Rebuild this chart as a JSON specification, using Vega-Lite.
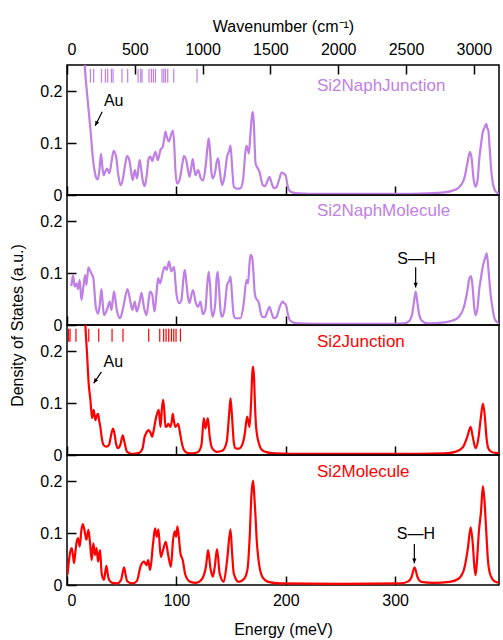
{
"$schema":"https://vega.github.io/schema/vega-lite/v6.json",
"autosize":{"type":"pad"},
"padding":{"left":8,"top":17,"right":1,"bottom":0},
"background":"white",
"config":{"font":"Liberation Sans","view":{"stroke":"black","strokeWidth":1.5},
"axis":{"labelFont":"Liberation Sans","titleFont":"Liberation Sans","labelFontSize":16,"titleFontSize":16,"labelColor":"black","titleColor":"black","titleFontWeight":"normal","tickColor":"black","tickWidth":1.5,"tickSize":-9,"domain":false,"grid":false,"labelPadding":14}},
"bounds":"flush",
"spacing":0,
"datasets":{
"dos":[
{"p":1,"e":13,"d":0.40},{"p":1,"e":16.2,"d":0.25},{"p":1,"e":18.3,"d":0.196},{"p":1,"e":20.5,"d":0.147},{"p":1,"e":22,"d":0.112},{"p":1,"e":23.5,"d":0.074},{"p":1,"e":25.1,"d":0.048},{"p":1,"e":26.5,"d":0.034},{"p":1,"e":28.1,"d":0.030},{"p":1,"e":29.5,"d":0.045},{"p":1,"e":31.1,"d":0.079},{"p":1,"e":32.3,"d":0.055},{"p":1,"e":33.5,"d":0.038},{"p":1,"e":35,"d":0.045},{"p":1,"e":36.6,"d":0.051},{"p":1,"e":38.7,"d":0.042},{"p":1,"e":40.8,"d":0.065},{"p":1,"e":42.7,"d":0.085},{"p":1,"e":44.9,"d":0.074},{"p":1,"e":46.8,"d":0.040},{"p":1,"e":48.9,"d":0.019},{"p":1,"e":51,"d":0.03},{"p":1,"e":53.3,"d":0.06},{"p":1,"e":54.9,"d":0.075},{"p":1,"e":57,"d":0.067},{"p":1,"e":58.6,"d":0.045},{"p":1,"e":60.1,"d":0.029},{"p":1,"e":62,"d":0.048},{"p":1,"e":64.1,"d":0.032},{"p":1,"e":65.5,"d":0.055},{"p":1,"e":66.5,"d":0.067},{"p":1,"e":67.8,"d":0.05},{"p":1,"e":69.5,"d":0.025},{"p":1,"e":71.1,"d":0.017},{"p":1,"e":73,"d":0.04},{"p":1,"e":74.7,"d":0.0705},{"p":1,"e":76.3,"d":0.074},{"p":1,"e":77.8,"d":0.065},{"p":1,"e":79.4,"d":0.075},{"p":1,"e":80.9,"d":0.083},{"p":1,"e":83,"d":0.067},{"p":1,"e":85.5,"d":0.087},{"p":1,"e":87.6,"d":0.093},{"p":1,"e":89,"d":0.11},{"p":1,"e":90,"d":0.122},{"p":1,"e":91.5,"d":0.11},{"p":1,"e":93.1,"d":0.103},{"p":1,"e":95.5,"d":0.118},{"p":1,"e":97,"d":0.124},{"p":1,"e":98.2,"d":0.09},{"p":1,"e":99.1,"d":0.048},{"p":1,"e":100.6,"d":0.022},{"p":1,"e":103,"d":0.03},{"p":1,"e":105.5,"d":0.06},{"p":1,"e":106.8,"d":0.075},{"p":1,"e":109,"d":0.067},{"p":1,"e":110.5,"d":0.05},{"p":1,"e":112,"d":0.035},{"p":1,"e":113.8,"d":0.055},{"p":1,"e":115,"d":0.069},{"p":1,"e":116.3,"d":0.05},{"p":1,"e":117.5,"d":0.038},{"p":1,"e":119.9,"d":0.048},{"p":1,"e":122.4,"d":0.032},{"p":1,"e":124.5,"d":0.028},{"p":1,"e":127,"d":0.06},{"p":1,"e":128.6,"d":0.095},{"p":1,"e":129.6,"d":0.109},{"p":1,"e":130.8,"d":0.085},{"p":1,"e":132,"d":0.045},{"p":1,"e":133.3,"d":0.032},{"p":1,"e":135.5,"d":0.045},{"p":1,"e":137,"d":0.065},{"p":1,"e":138.2,"d":0.0705},{"p":1,"e":139.5,"d":0.05},{"p":1,"e":141.8,"d":0.019},{"p":1,"e":144,"d":0.035},{"p":1,"e":146.4,"d":0.074},{"p":1,"e":148.3,"d":0.085},{"p":1,"e":149.5,"d":0.095},{"p":1,"e":150.8,"d":0.06},{"p":1,"e":152.5,"d":0.016},{"p":1,"e":155.5,"d":0.012},{"p":1,"e":158.6,"d":0.013},{"p":1,"e":161,"d":0.03},{"p":1,"e":163,"d":0.08},{"p":1,"e":164.1,"d":0.095},{"p":1,"e":165.3,"d":0.088},{"p":1,"e":166.3,"d":0.08},{"p":1,"e":167.8,"d":0.12},{"p":1,"e":169.3,"d":0.155},{"p":1,"e":169.9,"d":0.16},{"p":1,"e":170.8,"d":0.14},{"p":1,"e":171.7,"d":0.09},{"p":1,"e":172.4,"d":0.061},{"p":1,"e":174.5,"d":0.051},{"p":1,"e":176.3,"d":0.042},{"p":1,"e":177.7,"d":0.028},{"p":1,"e":179,"d":0.019},{"p":1,"e":181,"d":0.017},{"p":1,"e":183.5,"d":0.028},{"p":1,"e":185.2,"d":0.035},{"p":1,"e":186.8,"d":0.025},{"p":1,"e":189.1,"d":0.013},{"p":1,"e":191.5,"d":0.015},{"p":1,"e":194,"d":0.03},{"p":1,"e":196.2,"d":0.043},{"p":1,"e":198.3,"d":0.041},{"p":1,"e":199.9,"d":0.038},{"p":1,"e":201.5,"d":0.02},{"p":1,"e":202.9,"d":0.01},{"p":1,"e":206,"d":0.005},{"p":1,"e":212,"d":0.003},{"p":1,"e":230,"d":0.002},{"p":1,"e":260,"d":0.002},{"p":1,"e":300,"d":0.002},{"p":1,"e":330,"d":0.003},{"p":1,"e":345,"d":0.005},{"p":1,"e":352,"d":0.008},{"p":1,"e":358,"d":0.014},{"p":1,"e":363,"d":0.03},{"p":1,"e":366,"d":0.06},{"p":1,"e":368.4,"d":0.083},{"p":1,"e":370,"d":0.07},{"p":1,"e":371.8,"d":0.03},{"p":1,"e":373.6,"d":0.016},{"p":1,"e":375.5,"d":0.03},{"p":1,"e":377,"d":0.07},{"p":1,"e":378.3,"d":0.093},{"p":1,"e":380.3,"d":0.122},{"p":1,"e":381.8,"d":0.13},{"p":1,"e":383.4,"d":0.137},{"p":1,"e":384.3,"d":0.128},{"p":1,"e":385.2,"d":0.125},{"p":1,"e":386.5,"d":0.09},{"p":1,"e":387.8,"d":0.05},{"p":1,"e":388.9,"d":0.029},{"p":1,"e":391,"d":0.01},{"p":1,"e":393.5,"d":0.004},{"p":1,"e":395,"d":0.003},
{"p":2,"e":4.0,"d":0.075},{"p":2,"e":5.5,"d":0.096},{"p":2,"e":7.0,"d":0.074},{"p":2,"e":8.9,"d":0.080},{"p":2,"e":10.1,"d":0.069},{"p":2,"e":11.6,"d":0.087},{"p":2,"e":13.2,"d":0.048},{"p":2,"e":15.0,"d":0.074},{"p":2,"e":16.5,"d":0.096},{"p":2,"e":17.7,"d":0.077},{"p":2,"e":19.6,"d":0.111},{"p":2,"e":21,"d":0.105},{"p":2,"e":22.3,"d":0.099},{"p":2,"e":24.1,"d":0.090},{"p":2,"e":25.3,"d":0.06},{"p":2,"e":26.3,"d":0.035},{"p":2,"e":28.4,"d":0.022},{"p":2,"e":30,"d":0.04},{"p":2,"e":31.5,"d":0.069},{"p":2,"e":32.7,"d":0.04},{"p":2,"e":33.9,"d":0.019},{"p":2,"e":36.9,"d":0.032},{"p":2,"e":39.1,"d":0.045},{"p":2,"e":40.6,"d":0.029},{"p":2,"e":42,"d":0.05},{"p":2,"e":43,"d":0.064},{"p":2,"e":44.2,"d":0.05},{"p":2,"e":45.5,"d":0.029},{"p":2,"e":48.5,"d":0.013},{"p":2,"e":50.5,"d":0.025},{"p":2,"e":52.2,"d":0.042},{"p":2,"e":55.3,"d":0.069},{"p":2,"e":57.4,"d":0.051},{"p":2,"e":59.8,"d":0.029},{"p":2,"e":62,"d":0.045},{"p":2,"e":63.8,"d":0.026},{"p":2,"e":66.5,"d":0.045},{"p":2,"e":68.1,"d":0.062},{"p":2,"e":70.5,"d":0.032},{"p":2,"e":72.7,"d":0.019},{"p":2,"e":74.5,"d":0.045},{"p":2,"e":75.9,"d":0.064},{"p":2,"e":78,"d":0.058},{"p":2,"e":79,"d":0.04},{"p":2,"e":80.1,"d":0.026},{"p":2,"e":81.8,"d":0.06},{"p":2,"e":83.3,"d":0.090},{"p":2,"e":85.2,"d":0.080},{"p":2,"e":87.3,"d":0.099},{"p":2,"e":89.4,"d":0.112},{"p":2,"e":91.2,"d":0.106},{"p":2,"e":93.3,"d":0.122},{"p":2,"e":95.4,"d":0.103},{"p":2,"e":97.9,"d":0.112},{"p":2,"e":99.2,"d":0.08},{"p":2,"e":100.4,"d":0.055},{"p":2,"e":102.5,"d":0.042},{"p":2,"e":104.6,"d":0.048},{"p":2,"e":106.5,"d":0.09},{"p":2,"e":107.7,"d":0.106},{"p":2,"e":109,"d":0.085},{"p":2,"e":110.5,"d":0.055},{"p":2,"e":112,"d":0.042},{"p":2,"e":114,"d":0.06},{"p":2,"e":115.3,"d":0.067},{"p":2,"e":117.5,"d":0.045},{"p":2,"e":119.8,"d":0.035},{"p":2,"e":122,"d":0.045},{"p":2,"e":124.2,"d":0.021},{"p":2,"e":126.5,"d":0.03},{"p":2,"e":128.3,"d":0.08},{"p":2,"e":129.6,"d":0.102},{"p":2,"e":131,"d":0.07},{"p":2,"e":132,"d":0.03},{"p":2,"e":133.3,"d":0.016},{"p":2,"e":135.5,"d":0.04},{"p":2,"e":136.8,"d":0.09},{"p":2,"e":137.9,"d":0.102},{"p":2,"e":139.3,"d":0.06},{"p":2,"e":140.5,"d":0.025},{"p":2,"e":141.8,"d":0.016},{"p":2,"e":144,"d":0.03},{"p":2,"e":146.4,"d":0.077},{"p":2,"e":148.3,"d":0.085},{"p":2,"e":149.5,"d":0.093},{"p":2,"e":150.8,"d":0.06},{"p":2,"e":152.3,"d":0.02},{"p":2,"e":154,"d":0.013},{"p":2,"e":158.6,"d":0.013},{"p":2,"e":161.5,"d":0.04},{"p":2,"e":164.1,"d":0.087},{"p":2,"e":165.5,"d":0.08},{"p":2,"e":166.8,"d":0.115},{"p":2,"e":167.8,"d":0.135},{"p":2,"e":169.3,"d":0.13},{"p":2,"e":170.5,"d":0.1},{"p":2,"e":171.5,"d":0.065},{"p":2,"e":172.4,"d":0.054},{"p":2,"e":175.5,"d":0.042},{"p":2,"e":177,"d":0.025},{"p":2,"e":178.5,"d":0.016},{"p":2,"e":181,"d":0.015},{"p":2,"e":183.5,"d":0.028},{"p":2,"e":185.2,"d":0.035},{"p":2,"e":186.8,"d":0.025},{"p":2,"e":189.1,"d":0.013},{"p":2,"e":191.5,"d":0.015},{"p":2,"e":194.5,"d":0.035},{"p":2,"e":197.3,"d":0.045},{"p":2,"e":198.6,"d":0.042},{"p":2,"e":200.3,"d":0.038},{"p":2,"e":202,"d":0.02},{"p":2,"e":203.5,"d":0.01},{"p":2,"e":205.8,"d":0.006},{"p":2,"e":212,"d":0.003},{"p":2,"e":240,"d":0.002},{"p":2,"e":290,"d":0.002},{"p":2,"e":308,"d":0.003},{"p":2,"e":313,"d":0.008},{"p":2,"e":315.5,"d":0.02},{"p":2,"e":317.3,"d":0.045},{"p":2,"e":318.8,"d":0.064},{"p":2,"e":320.3,"d":0.045},{"p":2,"e":322,"d":0.02},{"p":2,"e":324.5,"d":0.008},{"p":2,"e":330,"d":0.003},{"p":2,"e":345,"d":0.005},{"p":2,"e":352,"d":0.008},{"p":2,"e":358,"d":0.015},{"p":2,"e":363,"d":0.035},{"p":2,"e":366,"d":0.065},{"p":2,"e":368,"d":0.09},{"p":2,"e":369.6,"d":0.094},{"p":2,"e":371,"d":0.07},{"p":2,"e":372.3,"d":0.035},{"p":2,"e":373.6,"d":0.019},{"p":2,"e":375.5,"d":0.035},{"p":2,"e":377,"d":0.07},{"p":2,"e":378.3,"d":0.088},{"p":2,"e":380,"d":0.11},{"p":2,"e":381.3,"d":0.122},{"p":2,"e":382.5,"d":0.13},{"p":2,"e":383.7,"d":0.138},{"p":2,"e":384.8,"d":0.12},{"p":2,"e":385.8,"d":0.096},{"p":2,"e":387.3,"d":0.06},{"p":2,"e":388.9,"d":0.035},{"p":2,"e":391,"d":0.012},{"p":2,"e":393.5,"d":0.005},{"p":2,"e":395,"d":0.004},
{"p":3,"e":14,"d":0.45},{"p":3,"e":16.8,"d":0.25},{"p":3,"e":18.3,"d":0.196},{"p":3,"e":19.8,"d":0.138},{"p":3,"e":21.4,"d":0.106},{"p":3,"e":22.9,"d":0.071},{"p":3,"e":24.4,"d":0.087},{"p":3,"e":25.9,"d":0.067},{"p":3,"e":27.2,"d":0.075},{"p":3,"e":28.4,"d":0.079},{"p":3,"e":29.5,"d":0.065},{"p":3,"e":30.5,"d":0.054},{"p":3,"e":32,"d":0.03},{"p":3,"e":33.5,"d":0.019},{"p":3,"e":36,"d":0.016},{"p":3,"e":38.5,"d":0.02},{"p":3,"e":40.5,"d":0.04},{"p":3,"e":42.1,"d":0.051},{"p":3,"e":43.5,"d":0.04},{"p":3,"e":45,"d":0.02},{"p":3,"e":46.6,"d":0.013},{"p":3,"e":48.8,"d":0.02},{"p":3,"e":51,"d":0.038},{"p":3,"e":52.5,"d":0.025},{"p":3,"e":55,"d":0.006},{"p":3,"e":60,"d":0.002},{"p":3,"e":66,"d":0.004},{"p":3,"e":69,"d":0.012},{"p":3,"e":71,"d":0.035},{"p":3,"e":72.3,"d":0.042},{"p":3,"e":74.7,"d":0.048},{"p":3,"e":76.5,"d":0.042},{"p":3,"e":77.8,"d":0.035},{"p":3,"e":79.5,"d":0.05},{"p":3,"e":80.9,"d":0.067},{"p":3,"e":82.5,"d":0.08},{"p":3,"e":83.9,"d":0.087},{"p":3,"e":85.5,"d":0.054},{"p":3,"e":86.8,"d":0.09},{"p":3,"e":87.9,"d":0.106},{"p":3,"e":89,"d":0.085},{"p":3,"e":90,"d":0.054},{"p":3,"e":91.3,"d":0.055},{"p":3,"e":92.5,"d":0.060},{"p":3,"e":94.6,"d":0.054},{"p":3,"e":95.8,"d":0.065},{"p":3,"e":96.7,"d":0.079},{"p":3,"e":97.8,"d":0.065},{"p":3,"e":99.1,"d":0.054},{"p":3,"e":100.5,"d":0.057},{"p":3,"e":101.6,"d":0.060},{"p":3,"e":103.7,"d":0.038},{"p":3,"e":105.3,"d":0.02},{"p":3,"e":106.8,"d":0.010},{"p":3,"e":110,"d":0.004},{"p":3,"e":115,"d":0.003},{"p":3,"e":120,"d":0.006},{"p":3,"e":123,"d":0.02},{"p":3,"e":125.1,"d":0.071},{"p":3,"e":126.6,"d":0.051},{"p":3,"e":128.8,"d":0.071},{"p":3,"e":130.5,"d":0.035},{"p":3,"e":132.7,"d":0.013},{"p":3,"e":137,"d":0.006},{"p":3,"e":142,"d":0.008},{"p":3,"e":146,"d":0.025},{"p":3,"e":148.3,"d":0.08},{"p":3,"e":149.5,"d":0.109},{"p":3,"e":150.7,"d":0.08},{"p":3,"e":152.5,"d":0.025},{"p":3,"e":154,"d":0.013},{"p":3,"e":157,"d":0.012},{"p":3,"e":160.1,"d":0.019},{"p":3,"e":162.5,"d":0.04},{"p":3,"e":164.7,"d":0.074},{"p":3,"e":166.9,"d":0.054},{"p":3,"e":168.3,"d":0.1},{"p":3,"e":169.5,"d":0.16},{"p":3,"e":170.2,"d":0.170},{"p":3,"e":171,"d":0.15},{"p":3,"e":172,"d":0.09},{"p":3,"e":172.9,"d":0.054},{"p":3,"e":175.5,"d":0.022},{"p":3,"e":178,"d":0.01},{"p":3,"e":181.5,"d":0.006},{"p":3,"e":190,"d":0.003},{"p":3,"e":220,"d":0.002},{"p":3,"e":300,"d":0.002},{"p":3,"e":345,"d":0.003},{"p":3,"e":355,"d":0.006},{"p":3,"e":362,"d":0.015},{"p":3,"e":366,"d":0.035},{"p":3,"e":369.1,"d":0.054},{"p":3,"e":371,"d":0.035},{"p":3,"e":373.6,"d":0.013},{"p":3,"e":376,"d":0.03},{"p":3,"e":378.3,"d":0.07},{"p":3,"e":380.3,"d":0.099},{"p":3,"e":382,"d":0.075},{"p":3,"e":383.5,"d":0.035},{"p":3,"e":385.2,"d":0.013},{"p":3,"e":388,"d":0.006},{"p":3,"e":392,"d":0.004},{"p":3,"e":395,"d":0.003},
{"p":4,"e":0.5,"d":0.02},{"p":4,"e":0.9,"d":0.029},{"p":4,"e":2.7,"d":0.061},{"p":4,"e":4.3,"d":0.071},{"p":4,"e":5.3,"d":0.06},{"p":4,"e":6.4,"d":0.042},{"p":4,"e":7.5,"d":0.06},{"p":4,"e":8.6,"d":0.080},{"p":4,"e":10.1,"d":0.090},{"p":4,"e":11.6,"d":0.074},{"p":4,"e":13.2,"d":0.106},{"p":4,"e":14.4,"d":0.117},{"p":4,"e":16.2,"d":0.103},{"p":4,"e":17.7,"d":0.087},{"p":4,"e":19.6,"d":0.106},{"p":4,"e":21.1,"d":0.080},{"p":4,"e":22.6,"d":0.048},{"p":4,"e":24.1,"d":0.080},{"p":4,"e":25.6,"d":0.058},{"p":4,"e":27.1,"d":0.071},{"p":4,"e":28.4,"d":0.045},{"p":4,"e":30.2,"d":0.067},{"p":4,"e":31.7,"d":0.022},{"p":4,"e":33.8,"d":0.010},{"p":4,"e":35,"d":0.025},{"p":4,"e":36,"d":0.037},{"p":4,"e":37.2,"d":0.022},{"p":4,"e":38.4,"d":0.010},{"p":4,"e":41.5,"d":0.004},{"p":4,"e":46,"d":0.003},{"p":4,"e":49.5,"d":0.01},{"p":4,"e":51,"d":0.025},{"p":4,"e":52.2,"d":0.034},{"p":4,"e":53.5,"d":0.02},{"p":4,"e":55.2,"d":0.007},{"p":4,"e":60,"d":0.003},{"p":4,"e":64,"d":0.008},{"p":4,"e":67.1,"d":0.035},{"p":4,"e":70.5,"d":0.045},{"p":4,"e":72.6,"d":0.038},{"p":4,"e":74.2,"d":0.048},{"p":4,"e":76,"d":0.029},{"p":4,"e":78.7,"d":0.080},{"p":4,"e":80.5,"d":0.109},{"p":4,"e":82.1,"d":0.093},{"p":4,"e":83.6,"d":0.107},{"p":4,"e":85.7,"d":0.054},{"p":4,"e":87.8,"d":0.067},{"p":4,"e":90.3,"d":0.083},{"p":4,"e":92.5,"d":0.058},{"p":4,"e":95,"d":0.035},{"p":4,"e":97,"d":0.087},{"p":4,"e":98.5,"d":0.103},{"p":4,"e":99.8,"d":0.093},{"p":4,"e":101,"d":0.113},{"p":4,"e":102.8,"d":0.080},{"p":4,"e":103.7,"d":0.061},{"p":4,"e":105.8,"d":0.048},{"p":4,"e":108.3,"d":0.019},{"p":4,"e":112.8,"d":0.006},{"p":4,"e":118,"d":0.004},{"p":4,"e":123,"d":0.01},{"p":4,"e":127.2,"d":0.038},{"p":4,"e":129,"d":0.067},{"p":4,"e":131.2,"d":0.032},{"p":4,"e":133.3,"d":0.016},{"p":4,"e":135.1,"d":0.035},{"p":4,"e":137.2,"d":0.069},{"p":4,"e":139.6,"d":0.022},{"p":4,"e":143.3,"d":0.006},{"p":4,"e":146.4,"d":0.048},{"p":4,"e":149.5,"d":0.107},{"p":4,"e":151,"d":0.06},{"p":4,"e":152.5,"d":0.022},{"p":4,"e":157.1,"d":0.006},{"p":4,"e":162,"d":0.012},{"p":4,"e":165,"d":0.03},{"p":4,"e":167,"d":0.09},{"p":4,"e":168.7,"d":0.176},{"p":4,"e":170.2,"d":0.201},{"p":4,"e":171.3,"d":0.17},{"p":4,"e":172.4,"d":0.131},{"p":4,"e":173.5,"d":0.085},{"p":4,"e":174.8,"d":0.054},{"p":4,"e":178.5,"d":0.016},{"p":4,"e":184,"d":0.006},{"p":4,"e":195,"d":0.003},{"p":4,"e":250,"d":0.002},{"p":4,"e":305,"d":0.003},{"p":4,"e":312,"d":0.007},{"p":4,"e":315,"d":0.015},{"p":4,"e":317.8,"d":0.034},{"p":4,"e":320.5,"d":0.015},{"p":4,"e":324,"d":0.006},{"p":4,"e":335,"d":0.004},{"p":4,"e":350,"d":0.006},{"p":4,"e":358,"d":0.012},{"p":4,"e":363,"d":0.03},{"p":4,"e":366.5,"d":0.07},{"p":4,"e":369.1,"d":0.111},{"p":4,"e":371,"d":0.08},{"p":4,"e":372.5,"d":0.035},{"p":4,"e":373.6,"d":0.019},{"p":4,"e":375,"d":0.05},{"p":4,"e":376.6,"d":0.102},{"p":4,"e":378.5,"d":0.14},{"p":4,"e":380.3,"d":0.190},{"p":4,"e":381.8,"d":0.16},{"p":4,"e":383.4,"d":0.101},{"p":4,"e":385,"d":0.045},{"p":4,"e":385.8,"d":0.031},{"p":4,"e":388,"d":0.015},{"p":4,"e":390.4,"d":0.008},{"p":4,"e":395,"d":0.004}
],
"au":[
{"p":1,"e":21.4},{"p":1,"e":24.4},{"p":1,"e":31.5},{"p":1,"e":35.1},{"p":1,"e":37.2},{"p":1,"e":40.6},{"p":1,"e":42.1},{"p":1,"e":50.3},{"p":1,"e":55.5},{"p":1,"e":65},{"p":1,"e":67.4},{"p":1,"e":68.6},{"p":1,"e":75},{"p":1,"e":77.2},{"p":1,"e":79},{"p":1,"e":80.9},{"p":1,"e":86.9},{"p":1,"e":88.5},{"p":1,"e":90},{"p":1,"e":92.1},{"p":1,"e":97.6},{"p":1,"e":118.9},
{"p":3,"e":1.5},{"p":3,"e":2.8},{"p":3,"e":8.2},{"p":3,"e":19.9},{"p":3,"e":29},{"p":3,"e":41.2},{"p":3,"e":51.2},{"p":3,"e":74.7},{"p":3,"e":84.8},{"p":3,"e":88.4},{"p":3,"e":90.6},{"p":3,"e":93},{"p":3,"e":95.5},{"p":3,"e":97.6},{"p":3,"e":99.7},{"p":3,"e":103.7}
],
"labels":[
{"p":1,"e":228.5,"d":0.210,"t":"Si2NaphJunction"},
{"p":2,"e":228.5,"d":0.220,"t":"Si2NaphMolecule"},
{"p":3,"e":228.5,"d":0.218,"t":"Si2Junction"},
{"p":4,"e":228.5,"d":0.217,"t":"Si2Molecule"}
],
"notes":[
{"p":1,"e":42.7,"d":0.181,"t":"Au","x1":32.2,"y1":0.160,"x2":25.8,"y2":0.133},
{"p":2,"e":319.5,"d":0.127,"t":"S—H","x1":318.8,"y1":0.111,"x2":318.8,"y2":0.072},
{"p":3,"e":42.3,"d":0.178,"t":"Au","x1":31.5,"y1":0.160,"x2":24.4,"y2":0.138},
{"p":4,"e":319,"d":0.0975,"t":"S—H","x1":317.6,"y1":0.079,"x2":317.6,"y2":0.042}
]
},
"vconcat":[
{"width":432,"height":130,
 "layer":[
  {"layer":[
   {"data":{"name":"dos"},"transform":[{"filter":"datum.p==1"}],
    "mark":{"type":"line","color":"#bf7fe5","strokeWidth":2.2,"clip":true,"interpolate":"monotone"},
    "encoding":{"x":{"field":"e","type":"quantitative","scale":{"domain":[0,395],"nice":false},"axis":{"values":[0,100,200,300],"labels":false,"title":null}},
     "y":{"field":"d","type":"quantitative","scale":{"domain":[0,0.25],"nice":false},"axis":{"values":[0,0.1,0.2],"format":"~g","title":null}}}},
   {"data":{"name":"au"},"transform":[{"filter":"datum.p==1"}],
    "mark":{"type":"rule","color":"#bf7fe5","strokeWidth":1.2},
    "encoding":{"x":{"field":"e","type":"quantitative"},"y":{"datum":0.216,"type":"quantitative"},"y2":{"datum":0.243}}},
   {"data":{"name":"labels"},"transform":[{"filter":"datum.p==1"}],
    "mark":{"type":"text","color":"#bf7fe5","fontSize":17,"align":"left","baseline":"middle"},
    "encoding":{"x":{"field":"e","type":"quantitative"},"y":{"field":"d","type":"quantitative"},"text":{"field":"t"}}},
   {"data":{"name":"notes"},"transform":[{"filter":"datum.p==1"}],
    "mark":{"type":"text","color":"black","fontSize":16,"align":"center","baseline":"middle"},
    "encoding":{"x":{"field":"e","type":"quantitative"},"y":{"field":"d","type":"quantitative"},"text":{"field":"t"}}},
   {"data":{"name":"notes"},"transform":[{"filter":"datum.p==1"}],
    "mark":{"type":"rule","color":"black","strokeWidth":1.2},
    "encoding":{"x":{"field":"x1","type":"quantitative"},"y":{"field":"y1","type":"quantitative"},"x2":{"field":"x2"},"y2":{"field":"y2"}}},
   {"data":{"name":"notes"},"transform":[{"filter":"datum.p==1"}],
    "mark":{"type":"point","filled":true,"color":"black","opacity":1,"size":90,"angle":206,"shape":"M0,0L-0.45,1L0.45,1Z"},
    "encoding":{"x":{"field":"x2","type":"quantitative"},"y":{"field":"y2","type":"quantitative"}}}
  ]},
  {"data":{"values":[{}]},
   "mark":{"type":"rule","opacity":0},
   "encoding":{"x":{"datum":0,"type":"quantitative","scale":{"domain":[0,3186],"nice":false},"axis":{"orient":"top","values":[0,500,1000,1500,2000,2500,3000],"format":"d","labelPadding":17,"title":"Wavenumber (cm⁻¹)","titlePadding":7}}}}
 ],
 "resolve":{"scale":{"x":"independent"}}
},
{"width":432,"height":130,
 "layer":[
   {"data":{"name":"dos"},"transform":[{"filter":"datum.p==2"}],
    "mark":{"type":"line","color":"#bf7fe5","strokeWidth":2.2,"clip":true,"interpolate":"monotone"},
    "encoding":{"x":{"field":"e","type":"quantitative","scale":{"domain":[0,395],"nice":false},"axis":{"values":[0,100,200,300],"labels":false,"title":null}},
     "y":{"field":"d","type":"quantitative","scale":{"domain":[0,0.25],"nice":false},"axis":{"values":[0,0.1,0.2],"format":"~g","title":"Density of States (a.u.)","titleX":-50,"titleY":130,"titleAngle":-90,"titleAlign":"center","titleBaseline":"middle"}}}},
   {"data":{"name":"labels"},"transform":[{"filter":"datum.p==2"}],
    "mark":{"type":"text","color":"#bf7fe5","fontSize":17,"align":"left","baseline":"middle"},
    "encoding":{"x":{"field":"e","type":"quantitative"},"y":{"field":"d","type":"quantitative"},"text":{"field":"t"}}},
   {"data":{"name":"notes"},"transform":[{"filter":"datum.p==2"}],
    "mark":{"type":"text","color":"black","fontSize":16,"align":"center","baseline":"middle"},
    "encoding":{"x":{"field":"e","type":"quantitative"},"y":{"field":"d","type":"quantitative"},"text":{"field":"t"}}},
   {"data":{"name":"notes"},"transform":[{"filter":"datum.p==2"}],
    "mark":{"type":"rule","color":"black","strokeWidth":1.2},
    "encoding":{"x":{"field":"x1","type":"quantitative"},"y":{"field":"y1","type":"quantitative"},"x2":{"field":"x2"},"y2":{"field":"y2"}}},
   {"data":{"name":"notes"},"transform":[{"filter":"datum.p==2"}],
    "mark":{"type":"point","filled":true,"color":"black","opacity":1,"size":90,"angle":180,"shape":"M0,0L-0.45,1L0.45,1Z"},
    "encoding":{"x":{"field":"x2","type":"quantitative"},"y":{"field":"y2","type":"quantitative"}}}
 ]
},
{"width":432,"height":130,
 "layer":[
   {"data":{"name":"dos"},"transform":[{"filter":"datum.p==3"}],
    "mark":{"type":"line","color":"#ff0000","strokeWidth":2.2,"clip":true,"interpolate":"monotone"},
    "encoding":{"x":{"field":"e","type":"quantitative","scale":{"domain":[0,395],"nice":false},"axis":{"values":[0,100,200,300],"labels":false,"title":null}},
     "y":{"field":"d","type":"quantitative","scale":{"domain":[0,0.25],"nice":false},"axis":{"values":[0,0.1,0.2],"format":"~g","title":null}}}},
   {"data":{"name":"au"},"transform":[{"filter":"datum.p==3"}],
    "mark":{"type":"rule","color":"#ff0000","strokeWidth":1.2},
    "encoding":{"x":{"field":"e","type":"quantitative"},"y":{"datum":0.218,"type":"quantitative"},"y2":{"datum":0.243}}},
   {"data":{"name":"labels"},"transform":[{"filter":"datum.p==3"}],
    "mark":{"type":"text","color":"#ff0000","fontSize":17,"align":"left","baseline":"middle"},
    "encoding":{"x":{"field":"e","type":"quantitative"},"y":{"field":"d","type":"quantitative"},"text":{"field":"t"}}},
   {"data":{"name":"notes"},"transform":[{"filter":"datum.p==3"}],
    "mark":{"type":"text","color":"black","fontSize":16,"align":"center","baseline":"middle"},
    "encoding":{"x":{"field":"e","type":"quantitative"},"y":{"field":"d","type":"quantitative"},"text":{"field":"t"}}},
   {"data":{"name":"notes"},"transform":[{"filter":"datum.p==3"}],
    "mark":{"type":"rule","color":"black","strokeWidth":1.2},
    "encoding":{"x":{"field":"x1","type":"quantitative"},"y":{"field":"y1","type":"quantitative"},"x2":{"field":"x2"},"y2":{"field":"y2"}}},
   {"data":{"name":"notes"},"transform":[{"filter":"datum.p==3"}],
    "mark":{"type":"point","filled":true,"color":"black","opacity":1,"size":90,"angle":214,"shape":"M0,0L-0.45,1L0.45,1Z"},
    "encoding":{"x":{"field":"x2","type":"quantitative"},"y":{"field":"y2","type":"quantitative"}}}
 ]
},
{"width":432,"height":130,
 "layer":[
   {"data":{"name":"dos"},"transform":[{"filter":"datum.p==4"}],
    "mark":{"type":"line","color":"#ff0000","strokeWidth":2.2,"clip":true,"interpolate":"monotone"},
    "encoding":{"x":{"field":"e","type":"quantitative","scale":{"domain":[0,395],"nice":false},"axis":{"values":[0,100,200,300],"labelPadding":16,"title":"Energy (meV)","titlePadding":13}},
     "y":{"field":"d","type":"quantitative","scale":{"domain":[0,0.25],"nice":false},"axis":{"values":[0,0.1,0.2],"format":"~g","title":null}}}},
   {"data":{"name":"labels"},"transform":[{"filter":"datum.p==4"}],
    "mark":{"type":"text","color":"#ff0000","fontSize":17,"align":"left","baseline":"middle"},
    "encoding":{"x":{"field":"e","type":"quantitative"},"y":{"field":"d","type":"quantitative"},"text":{"field":"t"}}},
   {"data":{"name":"notes"},"transform":[{"filter":"datum.p==4"}],
    "mark":{"type":"text","color":"black","fontSize":16,"align":"center","baseline":"middle"},
    "encoding":{"x":{"field":"e","type":"quantitative"},"y":{"field":"d","type":"quantitative"},"text":{"field":"t"}}},
   {"data":{"name":"notes"},"transform":[{"filter":"datum.p==4"}],
    "mark":{"type":"rule","color":"black","strokeWidth":1.2},
    "encoding":{"x":{"field":"x1","type":"quantitative"},"y":{"field":"y1","type":"quantitative"},"x2":{"field":"x2"},"y2":{"field":"y2"}}},
   {"data":{"name":"notes"},"transform":[{"filter":"datum.p==4"}],
    "mark":{"type":"point","filled":true,"color":"black","opacity":1,"size":90,"angle":180,"shape":"M0,0L-0.45,1L0.45,1Z"},
    "encoding":{"x":{"field":"x2","type":"quantitative"},"y":{"field":"y2","type":"quantitative"}}}
 ]
}
]
}
